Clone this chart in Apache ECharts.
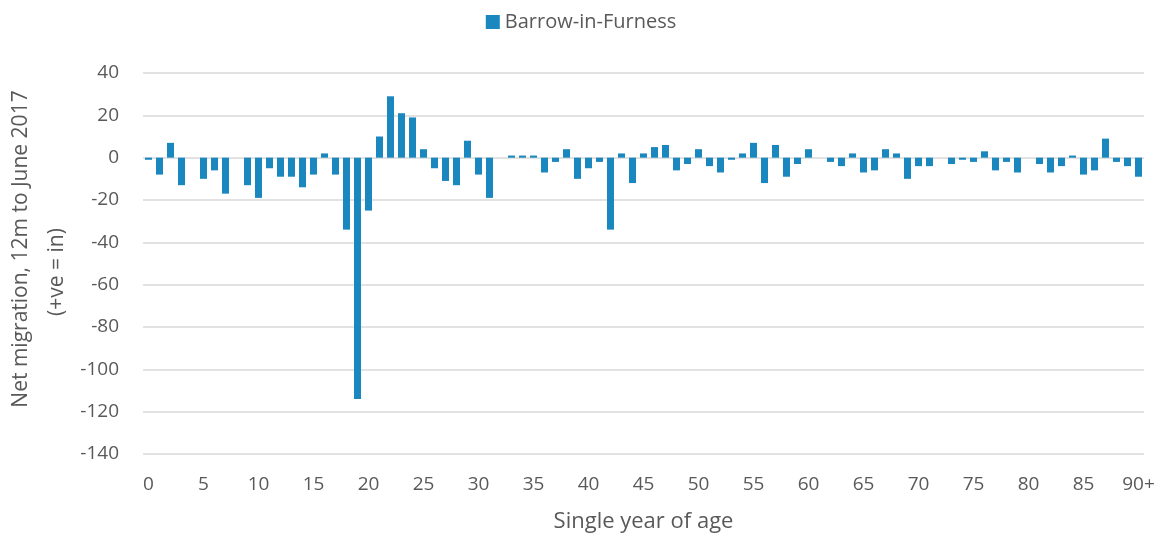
<!DOCTYPE html>
<html>
<head>
<meta charset="utf-8">
<script src="https://cdn.jsdelivr.net/npm/echarts@6/dist/echarts.min.js"></script>
<style>
  html, body { margin: 0; padding: 0; background: #fff; }
  #chart { width: 1162px; height: 538px; }
</style>
</head>
<body>
<div id="chart"></div>
<script>
  // ages 0..89 plus 90+
  const ages = []
  for (let a = 0; a < 90; a++) ages.push(String(a))
  ages.push('90+')

  // net migration per single year of age
  const netMigration = [
    -1, -8, 7, -13, 0, -10, -6, -17, 0, -13,
    -19, -5, -9, -9, -14, -8, 2, -8, -34, -114,
    -25, 10, 29, 21, 19, 4, -5, -11, -13, 8,
    -8, -19, 0, 1, 1, 1, -7, -2, 4, -10,
    -5, -2, -34, 2, -12, 2, 5, 6, -6, -3,
    4, -4, -7, -1, 2, 7, -12, 6, -9, -3,
    4, 0, -2, -4, 2, -7, -6, 4, 2, -10,
    -4, -4, 0, -3, -1, -2, 3, -6, -2, -7,
    0, -3, -7, -4, 1, -8, -6, 9, -2, -4,
    -9
  ]

  const yTicks = { min: -140, max: 40, step: 20 }

  const grey = '#595959'
  const chart = echarts.init(document.getElementById('chart'))
  chart.setOption({
    animation: false,
    textStyle: { fontFamily: 'Open Sans', color: grey },
    legend: {
      top: 7,
      left: 'center',
      itemWidth: 14,
      itemHeight: 14,
      itemGap: 6,
      icon: 'rect',
      textStyle: { fontSize: 20, color: grey, fontFamily: 'Open Sans' },
      data: ['Barrow-in-Furness']
    },
    grid: {
      left: 143,
      right: 18,
      top: 73,
      bottom: 84,
      containLabel: false,
      outerBoundsMode: 'none'
    },
    // y axis title, two lines placed separately
    graphic: [
      {
        type: 'text',
        x: 21,
        y: 249,
        rotation: Math.PI / 2,
        style: {
          text: 'Net migration, 12m to June 2017',
          fontSize: 21,
          fontFamily: 'Open Sans',
          fill: grey,
          align: 'center',
          verticalAlign: 'middle'
        }
      },
      {
        type: 'text',
        x: 57,
        y: 272,
        rotation: Math.PI / 2,
        style: {
          text: '(+ve = in)',
          fontSize: 21,
          fontFamily: 'Open Sans',
          fill: grey,
          align: 'center',
          verticalAlign: 'middle'
        }
      }
    ],
    xAxis: {
      type: 'category',
      data: ages,
      name: 'Single year of age',
      nameLocation: 'middle',
      nameGap: 57,
      nameTextStyle: { fontSize: 22, color: grey },
      axisLine: { show: false, onZero: false },
      axisTick: { show: false },
      axisLabel: {
        interval: 4,
        fontSize: 19,
        color: grey,
        margin: 21
      }
    },
    yAxis: {
      type: 'value',
      min: yTicks.min,
      max: yTicks.max,
      interval: yTicks.step,
      axisLabel: { fontSize: 19, color: grey, margin: 24 },
      axisLine: { show: false },
      axisTick: { show: false },
      splitLine: { lineStyle: { color: '#d9d9d9', width: 1.5 } }
    },
    series: [{
      name: 'Barrow-in-Furness',
      type: 'bar',
      data: netMigration,
      barWidth: 7,
      itemStyle: { color: '#1a87bf' }
    }]
  })
</script>
</body>
</html>
